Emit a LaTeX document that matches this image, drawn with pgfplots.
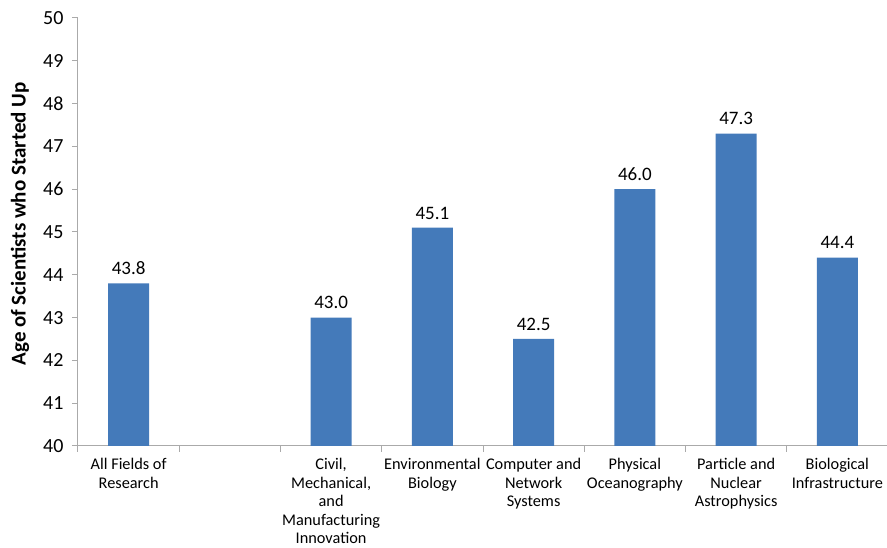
\documentclass[border=0pt]{standalone}
\usepackage{fontspec}
\setmainfont{Carlito}
\usepackage{pgfplots}
\pgfplotsset{compat=1.18}
\definecolor{barblue}{RGB}{68,122,186}
\definecolor{axgray}{RGB}{170,170,170}
\begin{document}
\begin{tikzpicture}
\begin{axis}[
  scale only axis,
  width=810pt, height=428pt,
  xmin=-0.5, xmax=7.5,
  ymin=40, ymax=50,
  ytick={40,41,...,50},
  xtick={-0.5,0.5,1.5,2.5,3.5,4.5,5.5,6.5,7.5},
  xticklabels={{All Fields of\\Research},{},{Civil,\\Mechanical,\\and\\Manufacturing\\Innovation},{Environmental\\Biology},{Computer and\\Network\\Systems},{Physical\\Oceanography},{Particle and\\Nuclear\\Astrophysics},{Biological\\Infrastructure},{}},
  xticklabel style={xshift=50.625pt, yshift=-3pt, align=center, font=\fontsize{16.3}{18.5}\selectfont, text=black},
  yticklabel style={font=\fontsize{20}{23}\selectfont, xshift=-5pt},
  /pgf/number format/assume math mode=true,
  axis x line*=bottom,
  axis y line*=left,
  axis line style={axgray, line width=1pt},
  tick align=outside,
  major tick length=6pt,
  tick style={axgray, line width=1pt},
  ylabel={Age of Scientists who Started Up},
  every axis y label/.style={at={(axis description cs:-0.0716,0.519)}, rotate=90, anchor=center, font=\fontsize{21}{24}\selectfont\bfseries},
  ybar, bar width=41pt,
  nodes near coords,
  nodes near coords style={font=\fontsize{19}{22}\selectfont, /pgf/number format/fixed, /pgf/number format/fixed zerofill, /pgf/number format/precision=1, yshift=5pt},
]
\addplot[fill=barblue, draw=none] coordinates {
  (0,43.8) (2,43.0) (3,45.1) (4,42.5) (5,46.0) (6,47.3) (7,44.4)
};
\end{axis}
\pgfresetboundingbox
\path (-78pt,-102pt) rectangle (809pt,446pt);
\end{tikzpicture}
\end{document}
